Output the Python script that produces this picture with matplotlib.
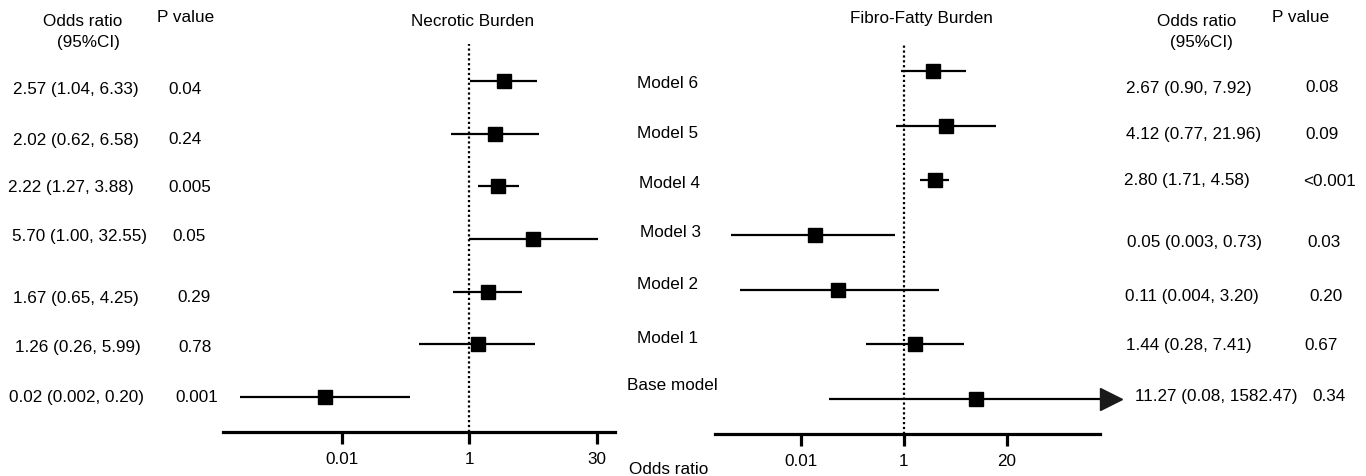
import numpy as np
import matplotlib.pyplot as plt

plt.rcParams['font.family'] = ['Liberation Sans', 'DejaVu Sans']

# data
models = ['Model 6', 'Model 5', 'Model 4', 'Model 3', 'Model 2', 'Model 1', 'Base model']

nec_or = [2.57, 2.02, 2.22, 5.70, 1.67, 1.26, 0.02]
nec_lo = [1.04, 0.62, 1.27, 1.00, 0.65, 0.26, 0.002]
nec_hi = [6.33, 6.58, 3.88, 32.55, 4.25, 5.99, 0.20]
nec_p = ['0.04', '0.24', '0.005', '0.05', '0.29', '0.78', '0.001']

fib_or = [2.67, 4.12, 2.80, 0.05, 0.11, 1.44, 11.27]
fib_lo = [0.90, 0.77, 1.71, 0.003, 0.004, 0.28, 0.08]
fib_hi = [7.92, 21.96, 4.58, 0.73, 3.20, 7.41, 1582.47]
fib_p = ['0.08', '0.09', '<0.001', '0.03', '0.20', '0.67', '0.34']

nec_ticklabels = ['0.01', '1', '30']
fib_ticklabels = ['0.01', '1', '20']

W, H = 1366, 477
FS = 12.3


def fmt(v):
    return f"{v:.2f}" if v >= 0.01 else f"{v:.3f}"


def ptext(x, y, s, ha='left', **kw):
    # place text by pixel position (x, y from top-left)
    fig.text(x / W, 1 - y / H, s, ha=ha, va='center', fontsize=FS, **kw)


fig = plt.figure(figsize=(W / 100, H / 100), dpi=100)


def forest(left, right, top, bottom, x_one, px_dec, row0, row_step,
           ors, los, his, ticklabels):
    ax = fig.add_axes([left / W, 1 - bottom / H, (right - left) / W, (bottom - top) / H])
    ax.set_xscale('log')
    ax.set_xlim(10 ** ((left - x_one) / px_dec), 10 ** ((right - x_one) / px_dec))
    ax.set_ylim((bottom - row0) / row_step, (top - row0) / row_step)
    y = np.arange(len(ors))
    ax.hlines(y, los, his, color='black', lw=1.6, zorder=2)
    ax.plot(ors, y, 's', color='black', ms=10.5, zorder=3)
    ax.axvline(1, color='black', lw=1.6, ls=(0, (1, 1.2)), zorder=1)
    for s in ['left', 'right', 'top']:
        ax.spines[s].set_visible(False)
    ax.spines['bottom'].set_linewidth(2.3)
    ax.set_yticks([])
    ax.set_xticks([10 ** -1.5, 1, 10 ** 1.5])
    ax.set_xticklabels(ticklabels)
    ax.xaxis.set_minor_locator(plt.NullLocator())
    ax.tick_params(axis='x', length=8.5, width=2.3, pad=5, labelsize=FS)
    return ax


ax1 = forest(223, 615, 45, 433, 469, 85, 82, 52.67,
             nec_or, nec_lo, nec_hi, nec_ticklabels)
ax2 = forest(715, 1100, 45, 435, 904, 68.5, 72, 54.67,
             fib_or, fib_lo, fib_hi, fib_ticklabels)

# arrow for clipped upper CI of base model
xmax2 = ax2.get_xlim()[1]
ax2.plot([xmax2 * 10 ** (11 / 68.5)], [len(fib_or) - 1], '>', color='#1a1a1a',
         ms=16, clip_on=False, zorder=4)

# headers
ptext(83, 21, 'Odds ratio', ha='center')
ptext(88, 43, '(95%CI)', ha='center')
ptext(186, 18, 'P value', ha='center')
ptext(473, 21, 'Necrotic Burden', ha='center')
ptext(921, 18, 'Fibro-Fatty Burden', ha='center')
ptext(1197, 21, 'Odds ratio', ha='center')
ptext(1201, 43, '(95%CI)', ha='center')
ptext(1301, 18, 'P value', ha='center')
ptext(669, 470, 'Odds ratio', ha='center')

# row text positions (pixels)
nec_y = [90, 140, 188, 237, 298, 348, 398]
nec_or_x = [13, 13, 8, 12, 13, 15, 9]
nec_p_x = [168, 168, 168, 172, 177, 178, 175]
mod_x = [637, 637, 639, 640, 637, 637, 627]
mod_y = [83, 133, 184, 233, 285, 339, 386]
fib_y = [88, 135, 181, 243, 297, 346, 397]
fib_or_x = [1126, 1126, 1124, 1127, 1125, 1126, 1135]
fib_p_x = [1305, 1305, 1303, 1307, 1309, 1304, 1312]

for i in range(len(models)):
    ptext(nec_or_x[i], nec_y[i], f"{fmt(nec_or[i])} ({fmt(nec_lo[i])}, {fmt(nec_hi[i])})")
    ptext(nec_p_x[i], nec_y[i], nec_p[i])
    ptext(mod_x[i], mod_y[i], models[i])
    ptext(fib_or_x[i], fib_y[i], f"{fmt(fib_or[i])} ({fmt(fib_lo[i])}, {fmt(fib_hi[i])})")
    ptext(fib_p_x[i], fib_y[i], fib_p[i])

fig.savefig('out.png', dpi=100)
